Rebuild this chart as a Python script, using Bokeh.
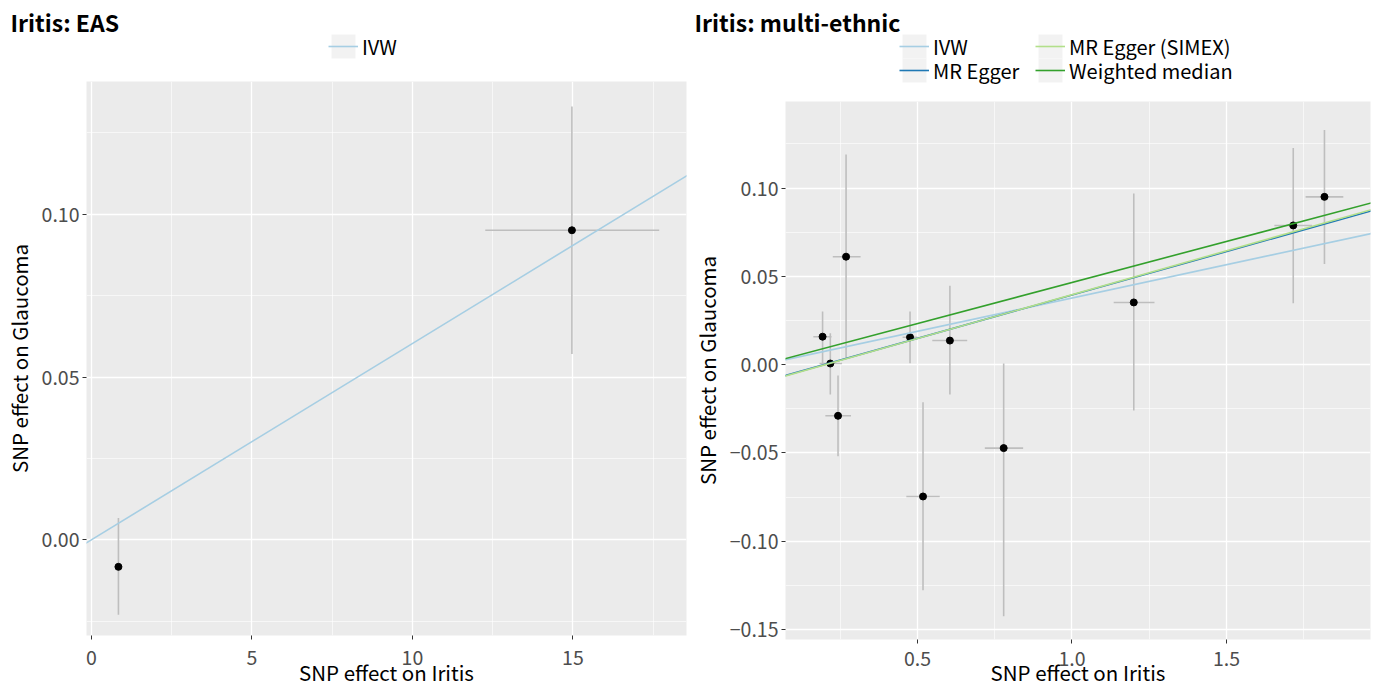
from bokeh.plotting import figure
from bokeh.models import FixedTicker, Legend, LegendItem, Range1d, ColumnDataSource, Label
from bokeh.layouts import row, column
from bokeh.embed import file_html
from bokeh.resources import INLINE

FONT = "Noto Sans CJK SC"

# ---------------- Panel 1: Iritis, EAS ----------------
eas_title = "Iritis: EAS"
eas_snp_exposure = [0.84, 14.97]
eas_snp_outcome = [-0.0083, 0.0951]
eas_exposure_lo = [0.74, 12.27]
eas_exposure_hi = [0.94, 17.69]
eas_outcome_lo = [-0.0230, 0.0571]
eas_outcome_hi = [0.0067, 0.1331]
eas_methods = ["IVW"]
eas_intercepts = [0.0]
eas_slopes = [0.00603]
eas_xticks = [0, 5, 10, 15]
eas_xtick_labels = ["0", "5", "10", "15"]
eas_xminor = [2.5, 7.5, 12.5, 17.5]
eas_yticks = [0.0, 0.05, 0.10]
eas_ytick_labels = ["0.00", "0.05", "0.10"]
eas_yminor = [-0.025, 0.025, 0.075, 0.125]

# ---------------- Panel 2: Iritis, multi-ethnic ----------------
multi_title = "Iritis: multi-ethnic"
multi_snp_exposure = [0.193, 0.218, 0.243, 0.269, 0.476, 0.605, 0.518, 0.779, 1.200, 1.716, 1.817]
multi_snp_outcome = [0.0158, 0.0006, -0.0290, 0.0611, 0.0155, 0.0136, -0.0747, -0.0473, 0.0352, 0.0788, 0.0950]
multi_exposure_lo = [0.163, 0.183, 0.202, 0.226, 0.452, 0.548, 0.464, 0.718, 1.135, 1.655, 1.756]
multi_exposure_hi = [0.222, 0.256, 0.285, 0.316, 0.500, 0.661, 0.572, 0.842, 1.267, 1.777, 1.878]
multi_outcome_lo = [0.0006, -0.0170, -0.0519, 0.0040, 0.0007, -0.0170, -0.1278, -0.1425, -0.0260, 0.0347, 0.0570]
multi_outcome_hi = [0.0300, 0.0177, -0.0062, 0.1190, 0.0300, 0.0447, -0.0213, 0.0006, 0.0969, 0.1226, 0.1329]
multi_methods = ["IVW", "MR Egger", "MR Egger (SIMEX)", "Weighted median"]
multi_intercepts = [0.0, -0.0098, -0.0101, 0.0]
multi_slopes = [0.0377, 0.0492, 0.0497, 0.0465]
multi_xticks = [0.5, 1.0, 1.5]
multi_xtick_labels = ["0.5", "1.0", "1.5"]
multi_xminor = [0.25, 0.75, 1.25, 1.75]
multi_yticks = [-0.15, -0.10, -0.05, 0.0, 0.05, 0.10]
multi_ytick_labels = ["\u22120.15", "\u22120.10", "\u22120.05", "0.00", "0.05", "0.10"]
multi_yminor = [-0.125, -0.075, -0.025, 0.025, 0.075, 0.125]

method_colors = {"IVW": "#A6CEE3", "MR Egger": "#1F78B4",
                 "MR Egger (SIMEX)": "#B2DF8A", "Weighted median": "#33A02C"}

W, H = 688, 689
KEY = 30


def header(title, methods, hh, title_x, key_spots):
    """Title + legend strip above a panel; key_spots = (left x, centre y) of each key."""
    h = figure(width=W, height=hh, output_backend="svg", toolbar_location=None,
               x_range=Range1d(0, W), y_range=Range1d(0, hh),
               x_axis_type=None, y_axis_type=None,
               min_border_left=0, min_border_right=0, min_border_top=0, min_border_bottom=0)
    h.frame_align = False
    h.outline_line_color = None
    h.background_fill_color = "white"
    h.border_fill_color = "white"
    h.grid.visible = False
    h.add_layout(Label(x=title_x, y=hh - 38, text=title, text_font=FONT,
                       text_font_size="23px", text_font_style="bold",
                       text_color="black", text_baseline="bottom"))
    off = [-3 * W, -2 * W]  # legend proxies live outside the visible strip
    for m, (kx, ky) in zip(methods, key_spots):
        bg = h.quad(left=[off[0]], right=[off[1]], top=[off[1]], bottom=[off[0]],
                    fill_color="#F2F2F2", line_color=None)
        ln = h.line(off, off, line_color=method_colors[m], line_width=1.6)
        leg = Legend(items=[LegendItem(label=m, renderers=[bg, ln])],
                     location=(kx, hh - (ky + KEY / 2)),
                     glyph_width=KEY, glyph_height=KEY, label_height=KEY,
                     padding=0, margin=0, spacing=0, label_standoff=4,
                     border_line_color=None, background_fill_alpha=0,
                     label_text_font=FONT, label_text_font_size="20px",
                     label_text_color="black")
        h.add_layout(leg, "center")
    return h


def panel(bx, by, bxl, bxh, byl, byh, methods, ints, slopes,
          xt, xtl, xmin, yt, ytl, ymin, xr, yr, frame, hh, xstand):
    fl, fr, fb = frame
    ph = H - hh
    p = figure(width=W, height=ph, output_backend="svg", toolbar_location=None,
               x_range=Range1d(*xr), y_range=Range1d(*yr),
               min_border_left=fl, min_border_right=W - fr,
               min_border_top=0, min_border_bottom=H - fb)
    p.frame_align = False
    p.background_fill_color = "#EBEBEB"
    p.border_fill_color = "white"
    p.outline_line_color = None

    xtick = FixedTicker(ticks=xt, minor_ticks=xmin)
    ytick = FixedTicker(ticks=yt, minor_ticks=ymin)
    p.xaxis.ticker = xtick
    p.yaxis.ticker = ytick
    p.xgrid.ticker = xtick
    p.ygrid.ticker = ytick
    p.xaxis.major_label_overrides = {float(v): s for v, s in zip(xt, xtl)}
    p.yaxis.major_label_overrides = {float(v): s for v, s in zip(yt, ytl)}
    for g in (p.xgrid, p.ygrid):
        g.grid_line_color = "white"
        g.grid_line_width = 1.3
        g.minor_grid_line_color = "white"
        g.minor_grid_line_width = 0.6
    for ax in (p.xaxis, p.yaxis):
        ax.axis_line_color = None
        ax.major_tick_line_color = "#333333"
        ax.major_tick_out = 4
        ax.major_tick_in = 0
        ax.minor_tick_line_color = None
        ax.major_label_text_font = FONT
        ax.major_label_text_font_size = "19.5px"
        ax.major_label_text_color = "#4D4D4D"
        ax.axis_label_text_font = FONT
        ax.axis_label_text_font_size = "20.5px"
        ax.axis_label_text_font_style = "normal"
        ax.axis_label_text_color = "black"
    p.xaxis.axis_label = "SNP effect on Iritis"
    p.yaxis.axis_label = "SNP effect on Glaucoma"
    p.yaxis.major_label_standoff = 3
    p.yaxis.axis_label_standoff = 5
    p.xaxis.major_label_standoff = xstand[0]
    p.xaxis.axis_label_standoff = xstand[1]

    src = ColumnDataSource(dict(x=bx, y=by, xl=bxl, xh=bxh, yl=byl, yh=byh))
    p.segment(x0="x", x1="x", y0="yl", y1="yh", source=src, line_color="#BEBEBE", line_width=1.6)
    p.segment(x0="xl", x1="xh", y0="y", y1="y", source=src, line_color="#BEBEBE", line_width=1.6)
    p.scatter("x", "y", source=src, size=7, color="black")

    span = xr[1] - xr[0]
    lx = [xr[0] - span, xr[1] + span]
    for m, a, b in zip(methods, ints, slopes):
        p.line(lx, [a + b * v for v in lx], line_color=method_colors[m], line_width=1.6)
    return p


h1 = header(eas_title, eas_methods, 81, 10, [(328, 46)])
p1 = panel(eas_snp_exposure, eas_snp_outcome, eas_exposure_lo, eas_exposure_hi,
           eas_outcome_lo, eas_outcome_hi, eas_methods, eas_intercepts, eas_slopes,
           eas_xticks, eas_xtick_labels, eas_xminor, eas_yticks, eas_ytick_labels, eas_yminor,
           (-0.155, 18.54), (-0.0294, 0.1408), (84, 686, 636), 81, (10, -11))

h2 = header(multi_title, multi_methods, 101, 6,
            [(211, 46), (211, 70), (347, 46), (347, 70)])
p2 = panel(multi_snp_exposure, multi_snp_outcome, multi_exposure_lo, multi_exposure_hi,
           multi_outcome_lo, multi_outcome_hi, multi_methods, multi_intercepts, multi_slopes,
           multi_xticks, multi_xtick_labels, multi_xminor, multi_yticks, multi_ytick_labels, multi_yminor,
           (0.073, 1.966), (-0.1557, 0.149), (97, 682, 640), 101, (7, -12))

layout = row(column(h1, p1, spacing=0), column(h2, p2, spacing=0), spacing=0)
open("out.html", "w").write(file_html(layout, INLINE))
